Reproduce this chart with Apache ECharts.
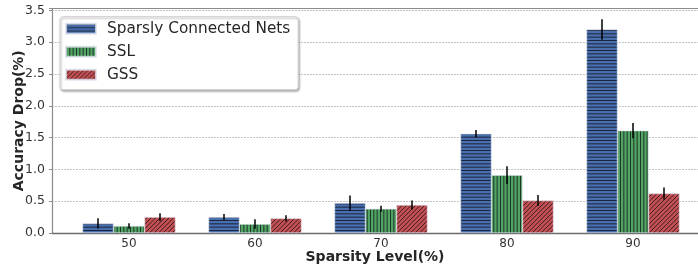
<!DOCTYPE html>
<html>
<head>
<meta charset="UTF-8">
<title>Accuracy Drop</title>
<script src="https://cdn.jsdelivr.net/npm/echarts@6/dist/echarts.min.js"></script>
<style>
	html, body { margin: 0; padding: 0; background: #fff; }
	#charts { width: 698px; height: 266px; }
</style>
</head>
<body>
<div id="charts"></div>
<script type="text/javascript">

	// data
	var levels = ['50', '60', '70', '80', '90'];
	var seriesNames = ['Sparsly Connected Nets', 'SSL', 'GSS'];
	var scnValues = [0.15, 0.25, 0.47, 1.56, 3.20];
	var scnErrors = [0.08, 0.05, 0.12, 0.06, 0.16];
	var sslValues = [0.11, 0.14, 0.38, 0.91, 1.61];
	var sslErrors = [0.045, 0.075, 0.047, 0.14, 0.12];
	var gssValues = [0.25, 0.23, 0.44, 0.51, 0.62];
	var gssErrors = [0.06, 0.05, 0.07, 0.086, 0.094];
	var yTicks = [0, 0.5, 1.0, 1.5, 2.0, 2.5, 3.0, 3.5];

	var FONT = 'DejaVu Sans';
	var BAR_W = 31;

	// hatch fills, like matplotlib's '-', '|' and '/'
	function hatch(base, kind) {
		var size = kind === 'diag' ? 9 : 10;
		var cv = document.createElement('canvas');
		cv.width = size; cv.height = size;
		var g = cv.getContext('2d');
		g.fillStyle = base;
		g.fillRect(0, 0, size, size);
		g.strokeStyle = 'rgba(10,10,20,0.72)';
		g.lineWidth = 1;
		g.beginPath();
		if (kind === 'h') {
			[0.5, 3.83, 7.17].forEach(function (y) { g.moveTo(0, y); g.lineTo(size, y); });
		} else if (kind === 'v') {
			[0.5, 3.83, 7.17].forEach(function (x) { g.moveTo(x, 0); g.lineTo(x, size); });
		} else {
			[-4.5, 0, 4.5, 9, 13.5, 18].forEach(function (c) { g.moveTo(c + 1, -1); g.lineTo(-1, c + 1); });
		}
		g.stroke();
		return { image: cv, repeat: 'repeat' };
	}

	var fills = [hatch('#4a6fae', 'h'), hatch('#52a464', 'v'), hatch('#c24f52', 'diag')];
	var values = [scnValues, sslValues, gssValues];
	var errors = [scnErrors, sslErrors, gssErrors];

	function errorSeries(k) {
		var rows = [];
		for (var i = 0; i < levels.length; i++) {
			rows.push([i, values[k][i], errors[k][i]]);
		}
		return {
			type: 'custom',
			name: 'err' + k,
			xAxisIndex: 2,
			yAxisIndex: 1,
			z: 5,
			silent: true,
			data: rows,
			encode: { x: 0, y: 1 },
			renderItem: function (params, api) {
				var v = api.value(1), e = api.value(2);
				var hi = api.coord([api.value(0), v + e]);
				var lo = api.coord([api.value(0), v - e]);
				var x = hi[0] + (k - 1) * BAR_W;
				return {
					type: 'line',
					shape: { x1: x, y1: hi[1], x2: x, y2: lo[1] },
					style: { stroke: '#000', lineWidth: 1.5 }
				};
			}
		};
	}

	var chart = echarts.init(document.getElementById('charts'));

	var barSeries = seriesNames.map(function (name, k) {
		return {
			name: name,
			type: 'bar',
			xAxisIndex: 2,
			yAxisIndex: 1,
			barWidth: BAR_W,
			barGap: '0%',
			itemStyle: { color: fills[k], borderColor: 'rgba(220,225,235,0.8)', borderWidth: 0.6 },
			data: values[k]
		};
	});

	var option = {
		animation: false,
		backgroundColor: '#fff',
		textStyle: { fontFamily: FONT },
		legend: {
			data: seriesNames,
			orient: 'vertical',
			left: 60,
			top: 16.7,
			padding: [3, 8, 6, 5],
			itemWidth: 30,
			itemHeight: 10,
			itemGap: 5,
			icon: 'rect',
			backgroundColor: '#fff',
			borderColor: '#cfcfcf',
			borderWidth: 1,
			borderRadius: 3,
			shadowBlur: 2,
			shadowColor: 'rgba(0,0,0,0.3)',
			shadowOffsetX: 1,
			shadowOffsetY: 1.5,
			textStyle: { fontFamily: FONT, fontSize: 15.3, color: '#262626', lineHeight: 18, padding: [0, 0, 0, 6] }
		},
		grid: [
			{ left: 52, right: 0, top: 8.5, bottom: 33, outerBoundsMode: 'none', containLabel: false },
			{ left: 66, width: 630, top: 8.5, bottom: 33, outerBoundsMode: 'none', containLabel: false }
		],
		xAxis: [
			{
				gridIndex: 0, type: 'value', min: 0, max: 1,
				axisLine: { show: true, lineStyle: { color: '#6b6b6b', width: 1.3 } },
				axisTick: { show: false }, axisLabel: { show: false }, splitLine: { show: false },
				name: 'Sparsity Level(%)', nameLocation: 'middle', nameGap: 17,
				nameTextStyle: { fontFamily: FONT, fontSize: 14, fontWeight: 'bold', color: '#262626' }
			},
			{
				gridIndex: 0, type: 'value', min: 0, max: 1, position: 'top',
				axisLine: { show: true, lineStyle: { color: '#8c8c8c', width: 1.2 } },
				axisTick: { show: false }, axisLabel: { show: false }, splitLine: { show: false }
			},
			{
				gridIndex: 1, type: 'category', data: levels,
				axisLine: { show: false }, axisTick: { show: false },
				axisLabel: { fontFamily: FONT, fontSize: 12, color: '#333', margin: 5 }
			}
		],
		yAxis: [
			{
				gridIndex: 0, type: 'value', min: 0, max: 3.53, interval: 0.5,
				axisLine: { show: true, lineStyle: { color: '#8c8c8c', width: 1.2 } },
				axisTick: { show: true, length: 3, lineStyle: { color: '#8c8c8c' } },
				axisLabel: {
					fontFamily: FONT, fontSize: 12.5, color: '#333', margin: 7,
					formatter: function (v) {
						return yTicks.indexOf(Math.round(v * 100) / 100) >= 0 && Math.abs(v * 2 - Math.round(v * 2)) < 1e-6 ? v.toFixed(1) : '';
					}
				},
				splitLine: { show: true, lineStyle: { color: '#b5b5b5', type: [2, 1], width: 0.8 } },
				name: 'Accuracy Drop(%)', nameLocation: 'middle', nameGap: 26, nameMoveOverlap: false,
				nameTextStyle: { fontFamily: FONT, fontSize: 14, fontWeight: 'bold', color: '#262626' }
			},
			{
				gridIndex: 1, type: 'value', min: 0, max: 3.53,
				show: false
			}
		],
		series: barSeries.concat([errorSeries(0), errorSeries(1), errorSeries(2)])
	};

	chart.setOption(option);
</script>
</body>
</html>
